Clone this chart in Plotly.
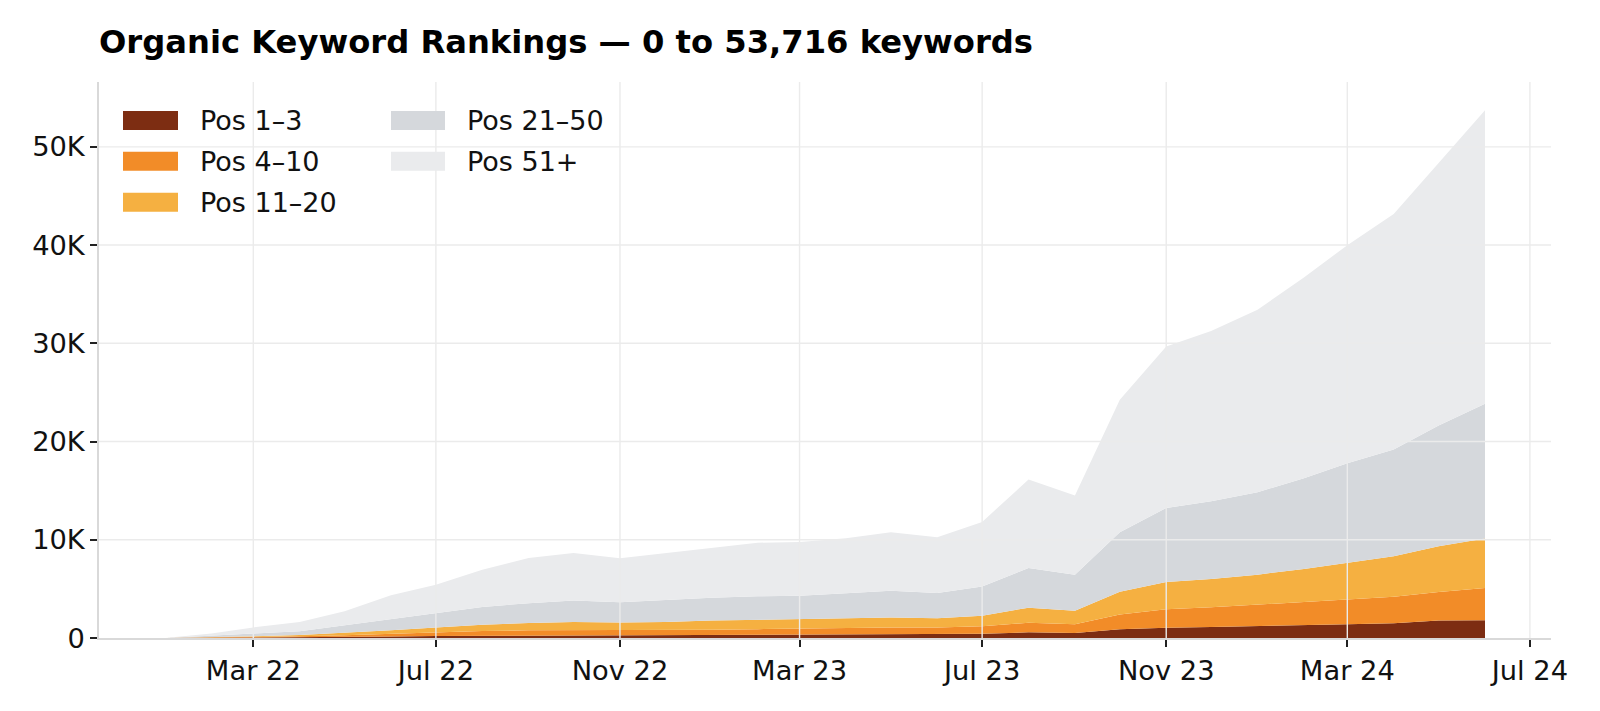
import pandas as pd
import plotly.graph_objects as go

# ---------------- data ----------------
months = pd.date_range("2022-01-01", "2024-06-01", freq="MS")

pos_1_3 = [0, 15, 30, 50, 90, 150, 200, 220, 240, 250, 240, 250,
           270, 300, 330, 350, 380, 380, 420, 580, 510, 880, 1050, 1120,
           1190, 1260, 1390, 1490, 1770, 1800]
pos_4_10 = [0, 25, 70, 120, 190, 280, 400, 480, 540, 540, 520, 540,
            580, 600, 630, 660, 690, 680, 780, 980, 880, 1500, 1870, 2000,
            2210, 2440, 2510, 2720, 2920, 3290]
pos_11_20 = [0, 30, 70, 130, 220, 350, 460, 660, 750, 850, 820, 840,
             930, 950, 940, 970, 1010, 960, 1060, 1530, 1390, 2340, 2780, 2890,
             3050, 3330, 3770, 4110, 4650, 5030]
pos_21_50 = [0, 130, 280, 380, 790, 1090, 1440, 1800, 2020, 2190, 2050, 2250,
             2320, 2400, 2410, 2570, 2740, 2560, 2980, 4040, 3670, 6040, 7540, 7910,
             8390, 9240, 10120, 10870, 12290, 13720]
pos_51_plus = [0, 250, 630, 960, 1430, 2480, 2920, 3800, 4600, 4830, 4490, 4740,
               5100, 5450, 5470, 5600, 5940, 5670, 6580, 9000, 8050, 13490, 16440, 17330,
               18580, 20430, 22200, 23960, 26720, 29876]

series_names = ["Pos 1–3", "Pos 4–10", "Pos 11–20", "Pos 21–50", "Pos 51+"]
series_values = [pos_1_3, pos_4_10, pos_11_20, pos_21_50, pos_51_plus]
series_colors = ["#7D2D12", "#F28C28", "#F5B041", "#D5D8DC", "#EAEBED"]

x_tickvals = ["2022-03-01", "2022-07-01", "2022-11-01", "2023-03-01",
              "2023-07-01", "2023-11-01", "2024-03-01", "2024-07-01"]
x_ticktext = ["Mar 22", "Jul 22", "Nov 22", "Mar 23", "Jul 23", "Nov 23", "Mar 24", "Jul 24"]
y_tickvals = [0, 10000, 20000, 30000, 40000, 50000]
y_ticktext = ["0", "10K", "20K", "30K", "40K", "50K"]

# ---------------- layout geometry ----------------
W, H = 1600, 711
ML, MR, MT, MB = 99, 49, 82, 73
PW, PH = W - ML - MR, H - MT - MB

def px(xp):
    return (xp - ML) / PW

def py(yp):
    return (H - MB - yp) / PH

FONT = "DejaVu Sans"
TXT = "#111111"
TICK_SIZE = 27.3

totals = [sum(v) for v in zip(*series_values)]
span = months[-1] - months[0]
x_range = [months[0] - span * 0.05, months[-1] + span * 0.05]

fig = go.Figure()
for name, vals, col in zip(series_names, series_values, series_colors):
    fig.add_trace(go.Scatter(
        x=months, y=vals, name=name, mode="lines", stackgroup="one",
        line=dict(width=0, color=col), fillcolor=col, showlegend=False,
    ))

shapes = []
# grid drawn above areas (as in the reference)
for tv in x_tickvals:
    shapes.append(dict(type="line", xref="x", yref="paper", x0=tv, x1=tv, y0=0, y1=1,
                       line=dict(color="#EBEBEB", width=1.4), layer="above"))
for tv in y_tickvals[1:]:
    shapes.append(dict(type="line", xref="paper", yref="y", x0=0, x1=1, y0=tv, y1=tv,
                       line=dict(color="#EBEBEB", width=1.4), layer="above"))

# manual legend
annotations = []
legend_cols = [(123, 178, 198), (391, 445, 465)]
legend_rows = [120.5, 161.3, 202.3]
for i, (name, col) in enumerate(zip(series_names, series_colors)):
    c = 0 if i < 3 else 1
    r = i if i < 3 else i - 3
    x0, x1, xt = legend_cols[c]
    yc = legend_rows[r]
    shapes.append(dict(type="rect", xref="paper", yref="paper",
                       x0=px(x0), x1=px(x1), y0=py(yc + 9.5), y1=py(yc - 9.5),
                       fillcolor=col, line=dict(width=0), layer="above"))
    annotations.append(dict(text=name, xref="paper", yref="paper", x=px(xt), y=py(yc),
                            xanchor="left", yanchor="middle", showarrow=False,
                            font=dict(family=FONT, size=27, color=TXT)))

title_text = f"Organic Keyword Rankings — {min(totals):,} to {max(totals):,} keywords"

fig.update_layout(
    width=W, height=H,
    margin=dict(l=ML, r=MR, t=MT, b=MB, pad=0),
    paper_bgcolor="white", plot_bgcolor="white",
    title=dict(text=f"<b>{title_text}</b>", x=px(99), xref="paper", xanchor="left",
               y=1 - 42 / H, yref="container", yanchor="middle",
               font=dict(family=FONT, size=32.2, color="#000000")),
    font=dict(family=FONT, size=TICK_SIZE, color=TXT),
    shapes=shapes, annotations=annotations,
    showlegend=False,
    hovermode=False,
)
fig.update_xaxes(
    type="date", range=x_range, tickvals=x_tickvals, ticktext=x_ticktext,
    showgrid=False, zeroline=False, showline=True, linecolor="#D9D9D9", linewidth=1.5,
    ticks="outside", ticklen=7, tickwidth=1.5, tickcolor="#222222",
    tickfont=dict(family=FONT, size=TICK_SIZE, color=TXT),
)
fig.update_yaxes(
    range=[0, 56600], tickvals=y_tickvals, ticktext=y_ticktext,
    showgrid=False, zeroline=False, showline=True, linecolor="#D9D9D9", linewidth=1.5,
    ticks="outside", ticklen=7, tickwidth=1.5, tickcolor="#222222",
    tickfont=dict(family=FONT, size=TICK_SIZE, color=TXT),
)

fig.write_html("out.html")
